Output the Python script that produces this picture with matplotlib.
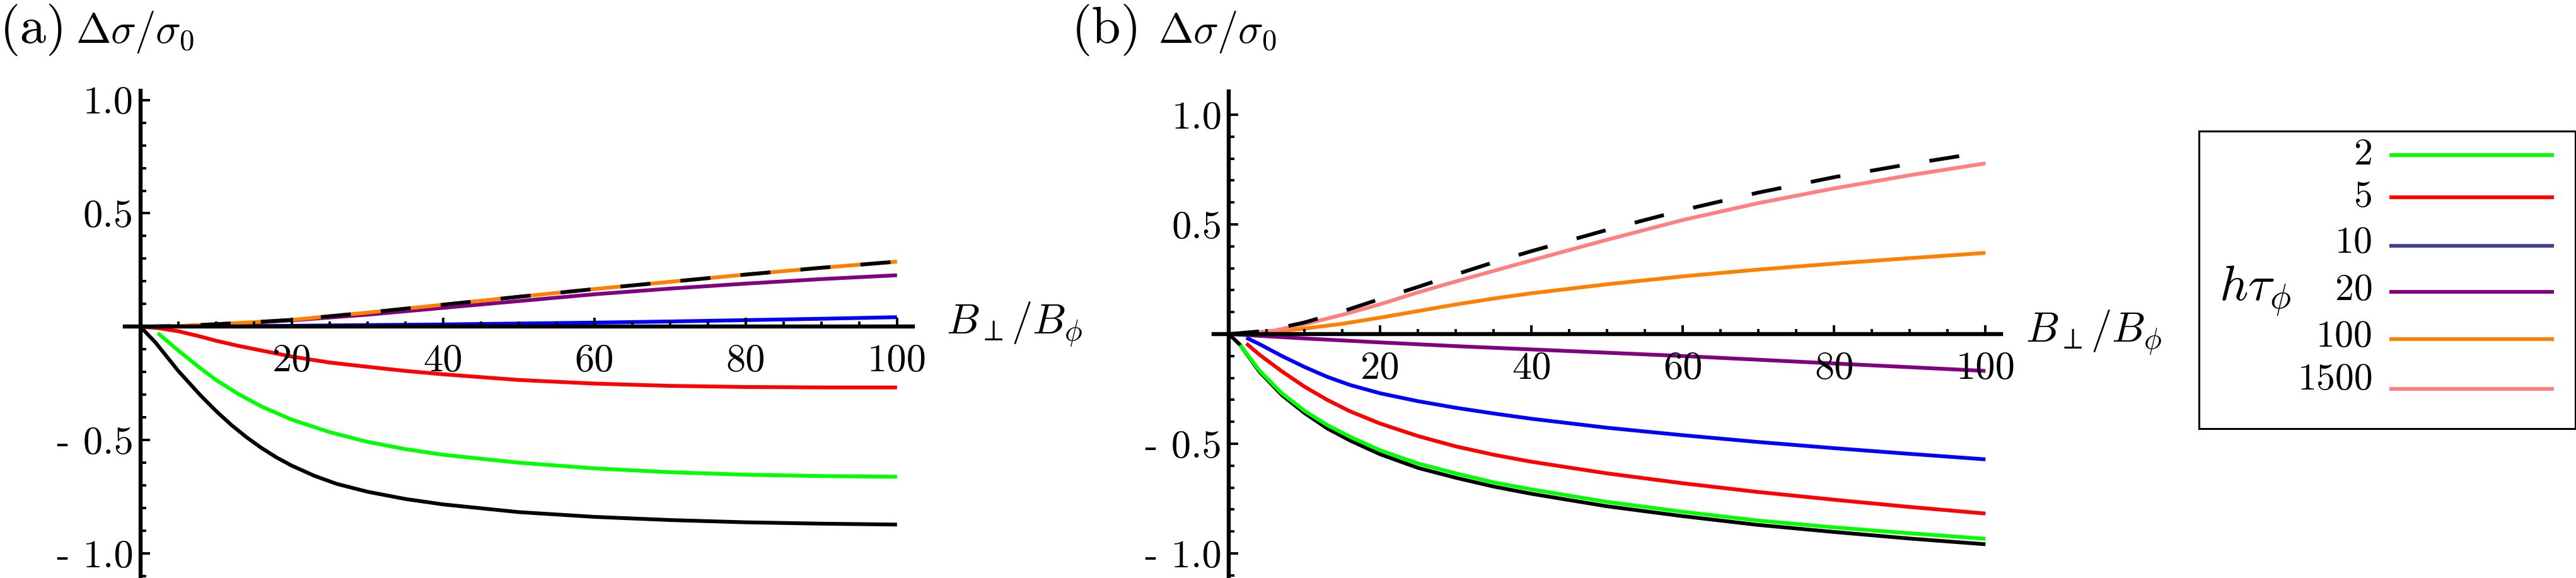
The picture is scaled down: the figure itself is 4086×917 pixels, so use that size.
import matplotlib
matplotlib.use('Agg')
import matplotlib.pyplot as plt
from matplotlib.ticker import FixedLocator, FixedFormatter

plt.rcParams['mathtext.fontset'] = 'cm'

# ---------------- data ----------------
legend_labels = ['2', '5', '10', '20', '100', '1500']
series_colors = ['#00ff00', '#ff0000', '#0000ff', '#800080', '#ff8000', '#ff8080']
legend_colors = ['#00ff00', '#ff0000', '#40409a', '#800080', '#ff8000', '#ff8080']

# panel (a)
xa_black = [0, 2, 5, 8, 10, 12, 14, 16, 18, 20, 23, 26, 30, 35, 40, 50, 60, 70, 80, 90, 100]
ya_black = [0, -0.07, -0.195, -0.305, -0.372, -0.433, -0.487, -0.535, -0.577, -0.613, -0.658, -0.694, -0.728, -0.76, -0.784, -0.818, -0.839, -0.853, -0.863, -0.869, -0.873]
xa_green = [2.3, 5, 8, 10, 13, 16, 20, 25, 30, 35, 40, 50, 60, 70, 80, 90, 100]
ya_green = [-0.028, -0.105, -0.185, -0.235, -0.298, -0.352, -0.41, -0.465, -0.508, -0.54, -0.565, -0.60, -0.625, -0.642, -0.653, -0.659, -0.662]
xa_red = [0, 2.3, 5, 8, 10, 13, 16, 20, 25, 30, 35, 40, 50, 60, 70, 80, 90, 100]
ya_red = [0, -0.006, -0.02, -0.044, -0.062, -0.085, -0.105, -0.132, -0.158, -0.177, -0.195, -0.21, -0.235, -0.251, -0.261, -0.266, -0.268, -0.268]
xa_blue = [0, 10, 20, 30, 40, 50, 60, 70, 80, 90, 100]
ya_blue = [0, 0.002, 0.004, 0.007, 0.01, 0.014, 0.018, 0.023, 0.029, 0.035, 0.042]
xa_up = [0, 5, 10, 15, 20, 30, 40, 50, 60, 70, 80, 90, 100]
ya_purple = [0, 0.002, 0.009, 0.018, 0.028, 0.053, 0.083, 0.113, 0.143, 0.168, 0.19, 0.21, 0.227]
ya_orange = [0, 0.003, 0.011, 0.02, 0.03, 0.062, 0.097, 0.132, 0.166, 0.198, 0.23, 0.26, 0.287]
ya_dash = [0, 0.003, 0.011, 0.02, 0.03, 0.062, 0.097, 0.132, 0.166, 0.198, 0.23, 0.26, 0.287]

# panel (b)
xb_black = [0, 1.5, 4, 7, 10, 13, 16, 20, 25, 30, 35, 40, 50, 60, 70, 80, 90, 100]
yb_black = [0, -0.05, -0.17, -0.278, -0.36, -0.43, -0.485, -0.548, -0.61, -0.655, -0.695, -0.728, -0.785, -0.83, -0.87, -0.902, -0.932, -0.958]
xb_green = [1.5, 4, 7, 10, 13, 16, 20, 25, 30, 35, 40, 50, 60, 70, 80, 90, 100]
yb_green = [-0.05, -0.165, -0.27, -0.35, -0.415, -0.468, -0.53, -0.59, -0.635, -0.676, -0.708, -0.765, -0.81, -0.85, -0.881, -0.908, -0.933]
xb_rb = [2.3, 4, 7, 10, 13, 16, 20, 25, 30, 35, 40, 50, 60, 70, 80, 90, 100]
yb_red = [-0.043, -0.093, -0.17, -0.24, -0.30, -0.352, -0.408, -0.465, -0.512, -0.55, -0.582, -0.635, -0.68, -0.72, -0.755, -0.788, -0.818]
yb_blue = [-0.017, -0.045, -0.10, -0.15, -0.195, -0.232, -0.27, -0.306, -0.336, -0.362, -0.386, -0.427, -0.461, -0.492, -0.52, -0.546, -0.571]
xb_purple = [0, 10, 20, 30, 40, 50, 60, 70, 80, 90, 100]
yb_purple = [0, -0.02, -0.038, -0.055, -0.07, -0.085, -0.1, -0.117, -0.134, -0.151, -0.168]
xb_orange = [2.3, 5, 10, 15, 20, 25, 30, 35, 40, 50, 60, 70, 80, 90, 100]
yb_orange = [0, 0.006, 0.025, 0.047, 0.075, 0.105, 0.135, 0.162, 0.186, 0.227, 0.263, 0.294, 0.321, 0.346, 0.37]
xb_pink = [2.3, 6, 10, 15, 20, 25, 30, 35, 40, 50, 60, 70, 80, 90, 100]
yb_pink = [0.003, 0.016, 0.045, 0.088, 0.136, 0.19, 0.24, 0.288, 0.336, 0.43, 0.52, 0.597, 0.664, 0.724, 0.778]
xb_dash = [0, 5, 10, 15, 20, 25, 30, 35, 40, 50, 60, 70, 80, 90, 100]
yb_dash = [0, 0.015, 0.053, 0.103, 0.16, 0.215, 0.272, 0.327, 0.378, 0.475, 0.565, 0.645, 0.715, 0.775, 0.83]

x_major = [20, 40, 60, 80, 100]
x_major_labels = ['20', '40', '60', '80', '100']
x_minor = [5, 10, 15, 25, 30, 35, 45, 50, 55, 65, 70, 75, 85, 90, 95]
y_major = [-1.0, -0.5, 0.5, 1.0]
y_major_labels = ['- 1.0', '- 0.5', '0.5', '1.0']
y_minor = [-1.1, -0.9, -0.8, -0.7, -0.6, -0.4, -0.3, -0.2, -0.1,
           0.1, 0.2, 0.3, 0.4, 0.6, 0.7, 0.8, 0.9]

# ---------------- layout ----------------
W, H = 4087, 917
fig = plt.figure(figsize=(W / 100, H / 100), dpi=100)
TICKFONT = 'cmr10'
LW = 4.3


def make_panel(left, right, top, bottom, xlim, ylim):
    ax = fig.add_axes([left / W, 1 - bottom / H, (right - left) / W, (bottom - top) / H])
    ax.set_xlim(*xlim)
    ax.set_ylim(*ylim)
    ax.patch.set_alpha(0)
    for s in ('top', 'right'):
        ax.spines[s].set_visible(False)
    for s in ('left', 'bottom'):
        ax.spines[s].set_position(('data', 0))
        ax.spines[s].set_linewidth(4.6)
        ax.spines[s].set_zorder(3)
    ax.xaxis.set_major_locator(FixedLocator(x_major))
    ax.xaxis.set_major_formatter(FixedFormatter(x_major_labels))
    ax.xaxis.set_minor_locator(FixedLocator(x_minor))
    ax.yaxis.set_major_locator(FixedLocator(y_major))
    ax.yaxis.set_major_formatter(FixedFormatter(y_major_labels))
    ax.yaxis.set_minor_locator(FixedLocator(y_minor))
    ax.tick_params(axis='x', which='major', direction='in', length=10, width=2.8, pad=20)
    ax.tick_params(axis='x', which='minor', direction='in', length=6, width=2.8)
    ax.tick_params(axis='y', which='major', direction='in', length=10.5, width=2.8, pad=8)
    ax.tick_params(axis='y', which='minor', direction='in', length=6.5, width=2.8)
    for lab in ax.get_xticklabels() + ax.get_yticklabels():
        lab.set_fontfamily(TICKFONT)
        lab.set_fontsize(45)
    ax.set_axisbelow(False)
    return ax


ax_a = make_panel(198, 1448, 144.3, 915.3, (-2.06, 102.1), (-1.104, 1.040))
ax_b = make_panel(1925.3, 3174.5, 145, 915, (-2.0, 102.1), (-1.106, 1.106))

common = dict(lw=LW, solid_capstyle='butt', solid_joinstyle='round')

# panel (a) curves
ax_a.plot(xa_black, ya_black, color='black', **common)
ax_a.plot(xa_green, ya_green, color=series_colors[0], **common)
ax_a.plot(xa_red, ya_red, color=series_colors[1], **common)
ax_a.plot(xa_blue, ya_blue, color=series_colors[2], **common)
ax_a.plot(xa_up, ya_purple, color=series_colors[3], **common)
ax_a.plot(xa_up, ya_orange, color=series_colors[4], **common)
ax_a.plot(xa_up, ya_dash, color='black', lw=LW, dashes=(8, 8), dash_capstyle='butt')

# panel (b) curves
ax_b.plot(xb_black, yb_black, color='black', **common)
ax_b.plot(xb_green, yb_green, color=series_colors[0], **common)
ax_b.plot(xb_rb, yb_red, color=series_colors[1], **common)
ax_b.plot(xb_rb, yb_blue, color=series_colors[2], **common)
ax_b.plot(xb_purple, yb_purple, color=series_colors[3], **common)
ax_b.plot(xb_orange, yb_orange, color=series_colors[4], **common)
ax_b.plot(xb_pink, yb_pink, color=series_colors[5], **common)
ax_b.plot(xb_dash, yb_dash, color='black', lw=LW, dashes=(8, 8), dash_capstyle='butt')


def ftext(px, py, s, **kw):
    fig.text(px / W, 1 - py / H, s, **kw)


# panel titles
ftext(0, 68, '(a)', fontfamily=TICKFONT, fontsize=60, va='baseline', ha='left')
ftext(120, 68, r'$\Delta\sigma/\sigma_0$', fontsize=48, va='baseline', ha='left')
ftext(1700, 68, '(b)', fontfamily=TICKFONT, fontsize=60, va='baseline', ha='left')
ftext(1837, 68, r'$\Delta\sigma/\sigma_0$', fontsize=48, va='baseline', ha='left')

# axis labels
ftext(1501, 530, r'$B_\perp/B_\phi$', fontsize=48, va='baseline', ha='left')
ftext(3213, 543, r'$B_\perp/B_\phi$', fontsize=48, va='baseline', ha='left')

# ---------------- legend ----------------
L_left, L_right, L_top, L_bot = 3488, 4085, 208, 680
lax = fig.add_axes([L_left / W, 1 - L_bot / H, (L_right - L_left) / W, (L_bot - L_top) / H])
lax.set_xlim(0, 1)
lax.set_ylim(0, 1)
lax.set_xticks([])
lax.set_yticks([])
for s in lax.spines.values():
    s.set_linewidth(2.2)

row_line_px = [246, 313, 390, 463, 538, 617]
row_text_px = [246, 313, 386, 461, 535, 603]
Lh = L_bot - L_top
Lw = L_right - L_left
key_x0 = (3790 - L_left) / Lw
key_x1 = (4051 - L_left) / Lw
txt_x = (3764 - L_left) / Lw
for lab, col, yl, yt in zip(legend_labels, legend_colors, row_line_px, row_text_px):
    fl = (L_bot - yl) / Lh
    ft = (L_bot - yt) / Lh
    lax.plot([key_x0, key_x1], [fl, fl], color=col, lw=4.2, solid_capstyle='butt')
    lax.text(txt_x, ft, lab, fontfamily=TICKFONT, fontsize=43, ha='right', va='center')

lax.text((3520 - L_left) / Lw, (L_bot - 477.6) / Lh, r'$h\tau_\phi$', fontsize=57,
         ha='left', va='baseline')

fig.savefig('out.png', dpi=100)
